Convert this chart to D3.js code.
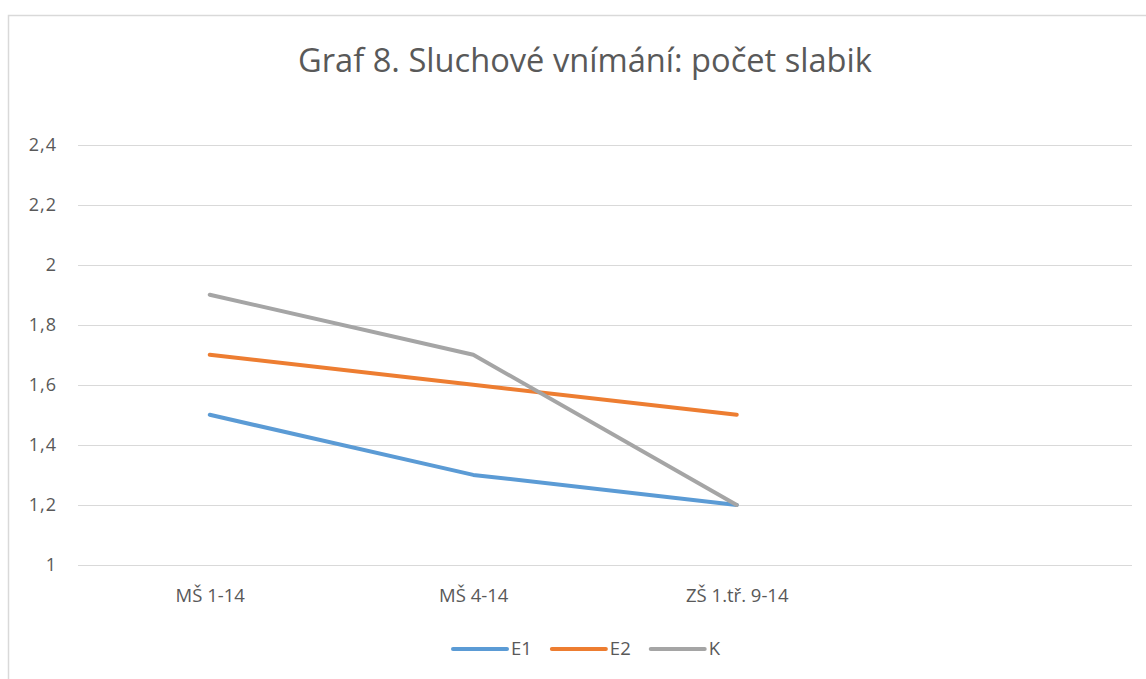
<!DOCTYPE html>
<html>
<head>
<meta charset="utf-8">
<script src="https://cdn.jsdelivr.net/npm/d3@7"></script>
<style>
  body { margin: 0; background: #fff; }
  text { font-family: "Open Sans", "Noto Sans", sans-serif; fill: #595959; }
</style>
</head>
<body>
<div class="chart"></div>
<script>
var categories = ["MŠ 1-14", "MŠ 4-14", "ZŠ 1.tř. 9-14", ""]
var seriesNames = ["E1", "E2", "K"]
var e1 = [1.5, 1.3, 1.2]
var e2 = [1.7, 1.6, 1.5]
var k = [1.9, 1.7, 1.2]
var yTicks = [1, 1.2, 1.4, 1.6, 1.8, 2, 2.2, 2.4]
var colors = ["#5B9BD5", "#ED7D31", "#A5A5A5"]
var titleText = "Graf 8. Sluchové vnímání: počet slabik"

var width = 1146, height = 679
var plot = {left: 78, right: 1132, top: 144.5, bottom: 565}

var czech = d3.formatLocale({decimal: ",", thousands: " ", grouping: [3], currency: ["", " Kč"]})
var fmt = czech.format(".1~f")

var svg = d3.select(".chart").append("svg")
    .attr("width", width)
    .attr("height", height)

// chart border
svg.append("rect")
    .attr("x", 8.5).attr("y", 15.5)
    .attr("width", width + 20).attr("height", height + 20)
    .attr("fill", "#fff")
    .attr("stroke", "#d9d9d9")
    .attr("stroke-width", 1.5)

var x = d3.scalePoint().domain(categories).range([plot.left, plot.right]).padding(0.5)
var y = d3.scaleLinear().domain([1, 2.4]).range([plot.bottom, plot.top])

// title
var title = svg.append("text")
    .attr("x", 585).attr("y", 72)
    .attr("text-anchor", "middle")
    .style("font-size", "28px")
    .text(titleText)
var tw = title.node().getComputedTextLength()
title.style("font-size", (28 * 574 / tw) + "px")

// gridlines
svg.append("g")
    .selectAll("line")
    .data(yTicks)
  .enter().append("line")
    .attr("x1", plot.left).attr("x2", plot.right)
    .attr("y1", function(d){ return Math.round(y(d)) + 0.5 })
    .attr("y2", function(d){ return Math.round(y(d)) + 0.5 })
    .attr("stroke", "#d9d9d9")
    .attr("stroke-width", 1)

// y axis labels
var yAxis = svg.append("g")
    .attr("transform", "translate(" + plot.left + ",0)")
    .call(d3.axisLeft(y).tickValues(yTicks).tickFormat(fmt).tickSize(0).tickPadding(21))
yAxis.select(".domain").remove()
yAxis.selectAll("text")
    .style("font-size", "18px").style("font-family", null)
    .style("letter-spacing", "1px")
    .attr("fill", "#595959")

// x axis labels
var xAxis = svg.append("g")
    .attr("transform", "translate(0," + plot.bottom + ")")
    .call(d3.axisBottom(x).tickSize(0).tickPadding(24))
xAxis.select(".domain").remove()
xAxis.selectAll("text").style("font-size", "18.5px").style("font-family", null).attr("fill", "#595959")

// lines
var series = [e1, e2, k]
var line = d3.line()
    .x(function(d, i){ return x(categories[i]) })
    .y(function(d){ return y(d) })

svg.append("g")
    .selectAll("path")
    .data(series)
  .enter().append("path")
    .attr("d", line)
    .attr("fill", "none")
    .attr("stroke", function(d, i){ return colors[i] })
    .attr("stroke-width", 4)
    .attr("stroke-linecap", "round")
    .attr("stroke-linejoin", "round")

// legend
var legend = svg.append("g")
var lx = 453, ly = 649
seriesNames.forEach(function(name, i){
  var g = legend.append("g")
  g.append("line")
      .attr("x1", lx).attr("x2", lx + 54)
      .attr("y1", ly).attr("y2", ly)
      .attr("stroke", colors[i])
      .attr("stroke-width", 4)
      .attr("stroke-linecap", "round")
  var t = g.append("text")
      .attr("x", lx + 58).attr("y", ly)
      .attr("dy", "0.35em")
      .style("font-size", "18.5px")
      .text(name)
  lx += 58 + t.node().getComputedTextLength() + 20
})
</script>
</body>
</html>
